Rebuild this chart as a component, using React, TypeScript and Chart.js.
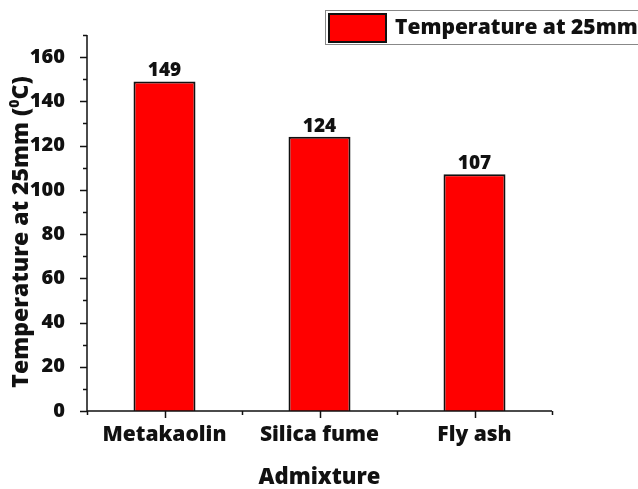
import { useEffect, useRef } from 'react';
import { Chart, registerables } from 'chart.js';

Chart.register(...registerables);

const categories = ['Metakaolin', 'Silica fume', 'Fly ash'];
const temperatures = [149, 124, 107];
const majorTicks = [0, 20, 40, 60, 80, 100, 120, 140, 160];
const minorTicks = [10, 30, 50, 70, 90, 110, 130, 150, 170];
const seriesLabel = 'Temperature at 25mm';
const xTitle = 'Admixture';
const yTitlePre = 'Temperature at 25mm (';
const yTitleSup = '0';
const yTitlePost = 'C)';

const FONT = "'Open Sans', 'Noto Sans', sans-serif";
const W = '800';
const INK = '#111111';

// Axis lines with major/minor tick marks, value labels, rotated y title and legend box
const decorations = {
  id: 'decorations',
  afterDraw(chart: any) {
    const { ctx, chartArea } = chart;
    const x = chart.scales.x;
    const y = chart.scales.y;
    ctx.save();

    // axis lines
    ctx.strokeStyle = INK;
    ctx.lineWidth = 1.5;
    ctx.beginPath();
    ctx.moveTo(chartArea.left, y.getPixelForValue(170));
    ctx.lineTo(chartArea.left, chartArea.bottom);
    ctx.lineTo(chartArea.right, chartArea.bottom);
    ctx.stroke();

    // y ticks
    ctx.beginPath();
    majorTicks.forEach((v) => {
      const py = Math.round(y.getPixelForValue(v)) + 0.5;
      ctx.moveTo(chartArea.left - 7, py);
      ctx.lineTo(chartArea.left, py);
    });
    minorTicks.forEach((v) => {
      const py = Math.round(y.getPixelForValue(v)) + 0.5;
      ctx.moveTo(chartArea.left - 4, py);
      ctx.lineTo(chartArea.left, py);
    });
    // x ticks: category centres (major) and boundaries (minor)
    categories.forEach((_, i) => {
      const px = Math.round(x.getPixelForValue(i)) + 0.5;
      ctx.moveTo(px, chartArea.bottom);
      ctx.lineTo(px, chartArea.bottom + 7);
    });
    for (let i = 0; i <= categories.length; i++) {
      const px = Math.round(x.getPixelForValue(i - 0.5)) + 0.5;
      ctx.moveTo(px, chartArea.bottom);
      ctx.lineTo(px, chartArea.bottom + 4);
    }
    ctx.stroke();

    // value labels above bars
    ctx.fillStyle = INK;
    ctx.font = `${W} 19px ${FONT}`;
    ctx.textAlign = 'center';
    ctx.textBaseline = 'alphabetic';
    const meta = chart.getDatasetMeta(0);
    meta.data.forEach((bar: any, i: number) => {
      ctx.fillText(String(temperatures[i]), bar.x, bar.y - 5);
    });

    // rotated y-axis title with superscript
    ctx.save();
    ctx.translate(21, 232);
    ctx.rotate(-Math.PI / 2);
    ctx.textBaseline = 'middle';
    ctx.textAlign = 'left';
    const big = `${W} 23px ${FONT}`;
    const small = `${W} 14px ${FONT}`;
    ctx.font = big;
    const w1 = ctx.measureText(yTitlePre).width;
    const w3 = ctx.measureText(yTitlePost).width;
    ctx.font = small;
    const w2 = ctx.measureText(yTitleSup).width;
    let cx = -(w1 + w2 + w3) / 2;
    ctx.font = big;
    ctx.fillText(yTitlePre, cx, 0);
    cx += w1;
    ctx.font = small;
    ctx.fillText(yTitleSup, cx, -6);
    cx += w2;
    ctx.font = big;
    ctx.fillText(yTitlePost, cx, 0);
    ctx.restore();

    // legend box
    ctx.strokeStyle = '#888888';
    ctx.lineWidth = 1;
    ctx.strokeRect(325.5, 10.5, 340, 34);
    ctx.fillStyle = '#ff0000';
    ctx.fillRect(329, 14, 57, 28);
    ctx.strokeStyle = INK;
    ctx.lineWidth = 2;
    ctx.strokeRect(329, 14, 57, 28);
    ctx.fillStyle = INK;
    ctx.font = `${W} 21px ${FONT}`;
    ctx.textAlign = 'left';
    ctx.textBaseline = 'middle';
    ctx.fillText(seriesLabel, 395, 28);

    ctx.restore();
  },
};

export default function App() {
  const canvasRef = useRef<HTMLCanvasElement | null>(null);

  useEffect(() => {
    if (!canvasRef.current) return;
    const chart = new Chart(canvasRef.current, {
      type: 'bar',
      data: {
        labels: categories,
        datasets: [
          {
            label: seriesLabel,
            data: temperatures,
            backgroundColor: '#ff0000',
            borderColor: INK,
            borderWidth: 2,
            categoryPercentage: 1,
            barPercentage: 0.4,
          },
        ],
      },
      options: {
        animation: false,
        responsive: true,
        maintainAspectRatio: false,
        layout: { padding: { top: 35, right: 86, left: 0, bottom: 0 } },
        plugins: {
          legend: { display: false },
          tooltip: { enabled: false },
        },
        scales: {
          x: {
            grid: { display: false },
            border: { display: false },
            ticks: {
              color: INK,
              padding: 3,
              font: { family: FONT, size: 21, weight: W },
            },
            title: {
              display: true,
              text: xTitle,
              color: INK,
              padding: { top: 0, bottom: -2 },
              font: { family: FONT, size: 22, weight: W },
            },
            afterFit: (scale: any) => {
              scale.height = 78;
            },
          },
          y: {
            min: 0,
            max: 170,
            grid: { display: false },
            border: { display: false },
            ticks: {
              color: INK,
              padding: 14,
              font: { family: FONT, size: 20, weight: W },
            },
            afterBuildTicks: (scale: any) => {
              scale.ticks = majorTicks.map((v) => ({ value: v }));
            },
            afterFit: (scale: any) => {
              scale.width = 87;
            },
          },
        },
      },
      plugins: [decorations],
    });
    return () => chart.destroy();
  }, []);

  return (
    <div style={{ position: 'fixed', left: 0, top: 0, width: 638, height: 489, background: '#ffffff' }}>
      <canvas ref={canvasRef} />
    </div>
  );
}
